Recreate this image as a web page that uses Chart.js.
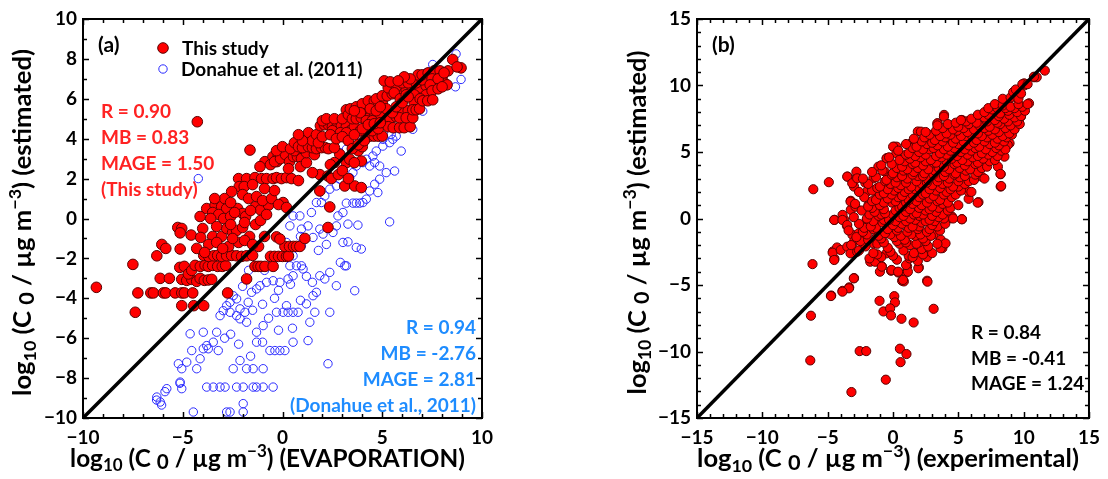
<!DOCTYPE html>
<html>
<head>
<meta charset="utf-8">
<script src="https://cdn.jsdelivr.net/npm/chart.js@4.4.0/dist/chart.umd.min.js"></script>
<style>
html, body { margin: 0; padding: 0; background: #fff; }
#wrap { position: relative; width: 1108px; height: 479px; }
.box { position: absolute; top: 0; width: 554px; height: 479px; }
</style>
</head>
<body>
<div id="wrap">
  <div class="box" style="left:0"><canvas id="chartA" width="554" height="479"></canvas></div>
  <div class="box" style="left:554px"><canvas id="chartB" width="554" height="479"></canvas></div>
</div>
<script>
// panel (a): evaporation vs estimated, [x, y] in log10 units
var evapThisStudy = [
  [-9.33,-3.45],[-7.5,-2.3],[-7.38,-4.7],[-7.25,-3.73],
  [-6.6,-3.73],[-6.47,-3.73],[-5.97,-3.73],[-5.85,-3.73],[-5.38,-3.73],[-5.05,-3.73],[-4.92,-3.73],[-4.5,-3.73],
  [-6.3,-1.87],[-6.05,-1.3],[-5.85,-1.5],
  [-6.13,-3.0],[-5.67,-3.0],[-5.05,-3.05],[-4.8,-3.1],[-4.55,-3.05],[-4.3,-3.15],[-4.13,-3.0],[-3.92,-3.1],[-3.72,-3.08],[-3.55,-3.05],
  [-5.05,-4.37],[-4.45,-4.37],[-3.95,-4.37],
  [-5.25,-0.45],[-5.05,-0.5],[-5.13,-0.72],[-5.13,-1.53],[-4.58,-0.83],[-4.13,0.1],[-4.27,4.85],
  [-5.15,-2.45],[-4.92,-2.4],[-4.72,-2.78],[-4.55,-2.6],[-4.38,-2.35],[-4.12,-2.4],[-3.88,-2.35],[-3.72,-2.4],[-3.5,-2.35],[-3.25,-2.4],[-3.02,-2.4],[-2.85,-2.35],
  [-3.95,-1.85],[-3.7,-1.9],[-3.45,-1.87],[-3.25,-1.85],[-3.05,-1.9],[-2.8,-1.87],[-2.55,-1.85],[-2.3,-1.87],[-2.05,-1.9],[-1.8,-1.87],[-1.5,-1.85],
  [-2.75,-3.73],[-1.8,-3.03],
  [-1.38,-2.4],[-1.22,-2.4],[-1.08,-2.4],[-0.88,-2.4],[-0.47,-2.4],
  [-0.6,-1.9],[-0.4,-1.9],[-0.2,-1.9],[0.0,-1.9],[0.2,-1.9],[0.3,-1.88],
  [0.12,-1.4],[0.35,-1.4],[0.55,-1.4],[0.7,-1.4],[0.87,-1.4],
  [-0.3,-0.92],[-0.13,-1.03],[1.12,-1.0],[2.28,-0.45],[2.37,0.58],[1.87,1.38],[1.87,2.2],[2.28,2.13],[2.45,2.0],
  [3.12,1.63],[3.62,1.63],[3.95,1.55],[3.95,2.88],[3.2,2.8],[3.37,2.97],[2.87,3.22],[0.03,0.8],
  [-3.8,0.5],[-3.38,0.67],[-3.05,0.6],[-2.8,0.5],[-3.5,0.3],[-3.2,0.2],[-2.95,0.0],[-2.6,0.1],[-2.25,0.5],[-2.0,0.25],[-1.85,0.1],[-1.35,0.6],[-1.1,0.43],[-0.7,0.67],
  [-4.0,-0.5],[-3.5,-0.9],[-3.05,-0.9],[-2.8,-0.5],[-2.5,-0.7],[-2.3,-0.6],[-2.0,-0.45],[-1.65,-0.9],[-1.35,-0.3],[-0.9,-0.9],[-3.7,-1.3],[-3.3,-1.2],[-2.7,-1.4],[-2.2,-1.2],[-1.2,-1.4],[-4.3,-1.5],[-4.1,-0.95],[-3.9,-1.7],
  [-3.6,0.0],[-3.3,-0.4],[-2.6,-0.3],[-2.4,0.3],[-1.6,0.4],[-1.9,-0.2],[-1.1,-0.1],[-0.8,0.2],[-3.0,-1.5],[-2.5,-1.0],[-1.9,-1.1],[-1.5,-1.3],[-2.9,1.0],[-2.6,0.8],[-3.4,1.0],
  [-1.63,3.43],[-0.88,2.85],[-0.48,3.1],[-0.22,3.1],[-0.28,2.85],[-1.13,2.6],
  [-2.2,2.0],[-1.8,2.0],[-1.38,2.05],[-1.05,2.0],[-0.8,2.0],[-0.47,2.0],[-0.3,2.05],[-0.05,2.0],[0.2,2.05],[0.45,2.0],
  [-2.17,1.6],[-1.92,1.6],[-1.5,1.7],[-2.55,1.35],[-2.0,1.2],[-1.7,1.0],[-1.3,1.1],[-1.0,0.9],[-0.55,1.0],[-0.2,0.7],[0.2,0.55],
  [-0.9,1.5],[-0.4,1.4],
  [-0.6,2.7],[-0.4,2.85],[-0.1,3.0],[0.15,3.2],[0.35,2.85],[0.55,3.1],[0.75,3.1],[0.95,3.0],
  [0.3,2.5],[0.9,2.6],[1.2,2.8],[1.5,2.3],[0.8,1.9],[-0.3,3.4],[0.0,3.6],[0.6,3.4],[1.2,3.3],[1.6,3.2],
  [0.4,3.5],[0.6,3.8],[0.8,3.6],[1.0,3.55],[1.3,3.6],[1.5,3.55],[1.7,3.5],[1.95,3.55],[2.15,3.55],[2.3,3.5],[2.6,3.55],
  [1.1,4.0],[1.3,4.3],[1.5,3.9],[1.7,4.2],[1.0,3.9],[0.8,4.2],[1.8,3.8],[2.0,4.1],
  [1.9,4.65],[2.1,4.7],[2.3,4.7],[2.5,4.6],[2.7,4.55],[2.95,4.65],[3.2,4.6],[3.4,4.4],[3.6,4.6],
  [2.0,4.9],[2.2,5.0],[2.6,5.0],[3.0,5.0],[2.5,4.4],[2.9,4.3],[3.2,4.3],[3.8,3.4],[4.0,3.6],
  [2.4,4.2],[2.7,4.0],[3.0,4.1],[3.3,3.9],
  [3.2,5.45],[3.3,5.2],[3.5,5.0],[3.7,5.0],[3.95,5.05],[4.1,5.3],[4.4,5.1],[4.6,5.1],[4.85,5.2],
  [3.4,5.5],[3.7,5.6],[4.0,5.75],[4.3,5.9],[4.6,5.9],[4.85,6.0],[5.1,6.1],
  [4.4,5.5],[4.7,5.4],[5.0,5.8],[3.9,5.3],[3.6,5.4],[4.2,4.9],[4.5,4.9],
  [4.7,6.0],[5.0,6.15],[5.25,6.15],[5.5,6.25],[5.85,6.35],[6.2,6.45],[6.5,6.45],[6.9,6.55],[7.2,6.65],
  [5.3,6.55],[5.7,6.6],[6.0,6.8],[6.3,6.8],[6.7,6.8],[7.0,6.95],[5.1,6.9],[5.4,6.85],
  [6.8,7.2],[6.4,7.0],[6.1,7.1],[5.8,6.9],[5.6,6.3],[5.9,6.0],[6.2,6.2],[6.6,6.2],
  [7.0,7.2],[7.3,7.3],[7.6,7.4],[7.9,7.4],[8.0,7.1],[8.1,6.8],[8.25,6.7],[7.7,6.7],[7.5,7.0],[8.53,7.97],[8.3,7.4],[8.95,7.55],[8.75,7.6],
  [7.4,6.7],[7.8,7.0],[8.1,7.3],[7.2,6.2],[7.5,6.4],[7.8,6.5],[8.0,6.6],[6.6,5.8],[6.9,6.0],
  [4.2,4.13],[4.4,4.13],[4.6,4.13],[4.8,4.13],[5.0,4.13],
  [3.9,4.4],[4.2,4.6],[4.5,4.4],[4.8,4.5],[5.1,4.8],[5.4,5.0],[5.7,5.1],[6.0,5.3],[6.3,5.4],
  [5.3,4.6],[5.55,4.55],[5.87,4.55],[6.1,4.55],[6.4,4.6],
  [5.87,5.05],[6.2,5.05],[6.53,5.05],
  [6.53,5.45],[6.7,5.45],[6.87,5.5],
  [7.03,5.9],[7.28,5.9],[7.53,5.95],
  [5.5,5.3],[5.7,5.6],[6.0,5.8],[6.3,6.1],[5.2,5.5],[4.9,5.6],
  [3.5,3.5],[3.8,3.7],[4.1,3.9],[3.6,4.2],[4.0,4.5],[4.3,4.7],[4.6,4.75],[4.9,4.8],
  [2.8,2.2],[3.0,2.4],[3.3,2.0],[2.6,2.8],[3.6,2.8],[2.4,2.7]
];

var evapDonahue = [
  [8.7,8.25],[8.67,6.6],[8.95,6.97],[7.53,7.72],[7.2,7.3],[7.03,6.63],[6.7,6.3],[6.95,6.13],[7.03,5.38],[6.53,4.47],
  [6.03,4.97],[5.87,4.63],[5.7,4.13],[5.53,3.97],[5.37,3.8],[5.03,3.63],[4.7,3.38],[4.53,3.13],[4.2,2.97],[4.03,2.8],
  [3.7,2.63],[3.53,2.3],[3.37,2.05],[4.37,2.63],[4.62,2.8],[4.87,2.63],[5.2,2.3],[5.62,2.38],[4.87,1.97],[4.62,1.72],
  [4.78,1.3],[4.37,1.38],[4.2,0.97],[4.03,0.8],[3.87,0.77],[3.7,0.77],[3.53,0.77],[3.2,0.77],[3.03,0.3],[2.78,0.13],
  [2.7,-0.37],[3.28,-0.28],[3.78,-0.33],[5.37,-0.17],[2.53,-0.7],[3.03,-1.2],[3.28,-1.17],[3.7,-1.45],[3.95,-1.53],
  [2.03,-0.78],[1.87,-0.53],[1.53,-0.95],[0.95,-1.37],[0.53,-1.87],[0.37,-2.37],[0.7,-2.37],[0.95,-2.37],[1.03,-2.53],
  [1.2,-2.9],[0.53,-2.87],[0.28,-3.03],[-0.13,-3.2],[-0.47,-3.12],[-0.8,-3.2],[-1.13,-3.37],[-1.3,-3.53],[-1.55,-3.7],
  [-1.72,-4.2],[-1.88,-4.7],[-2.13,-4.53],[-2.3,-4.03],[-2.47,-3.87],[-2.63,-4.2],[-2.8,-4.37],[-2.97,-4.62],[-2.63,-4.7],
  [-2.3,-4.87],[-2.13,-5.03],[-1.8,-5.2],[-3.13,-4.87],[-3.3,-5.7],[-3.47,-6.2],[-3.8,-6.37],[-3.97,-6.53],[-4.13,-7.03],
  [-4.3,-7.53],[-4.55,-6.62],[-4.8,-7.2],[-5.05,-7.53],[-5.13,-8.2],[-5.05,-8.53],[-5.8,-8.53],[-6.3,-8.95],[-6.13,-9.2],
  [-4.47,-9.7],[-3.8,-8.45],[-3.47,-8.45],[-3.13,-8.45],[-2.88,-8.45],[-2.8,-9.7],[-2.63,-9.7],[-2.3,-8.45],[-1.97,-8.45],
  [-1.47,-8.45],[-1.3,-8.45],[-0.97,-8.45],[-0.47,-8.45],[-1.97,-9.28],[-1.97,-9.7],[-1.8,-7.53],[-1.47,-7.53],[-0.97,-7.53],
  [-1.3,-6.2],[-2.13,-7.12],[-1.3,-5.7],[-0.97,-5.37],[-0.63,-6.62],[-0.38,-6.62],[-0.13,-6.62],[0.12,-6.62],[0.53,-6.2],
  [-0.3,-4.7],[0.03,-4.7],[0.28,-4.7],[0.53,-4.7],[0.78,-4.7],[0.2,-4.37],[1.2,-4.28],[1.62,-4.7],[1.53,-3.87],[1.7,-3.7],
  [1.87,-2.87],[2.12,-3.03],[2.37,-2.7],[2.7,-3.37],[3.62,-3.62],[3.12,-2.37],[3.2,-2.37],[2.28,-7.28],[1.28,-6.12],
  [1.37,-5.2],[2.37,-4.7],
  [0.87,0.13],[0.53,0.13],[0.37,-0.37],[0.95,-0.53],[1.28,-0.37],[1.45,0.3],[1.7,0.8],[1.95,0.8],[2.12,1.13],[2.37,1.47],
  [2.7,1.63],[2.87,1.97],[3.03,2.47],[2.87,3.3],[3.2,3.47],[3.53,3.63],[3.87,3.8],[4.2,3.97],[4.7,4.13],[5.03,3.97],
  [5.45,4.22],[5.95,3.38],[-4.22,2.0],
  [-2.47,-7.53],[-3.22,-6.62],[-3.72,-6.53],[-2.9,-6.0],[-2.6,-5.8],[-2.2,-6.3],[-1.6,-6.9],[-1.0,-6.2],[-0.7,-5.0],
  [-0.4,-4.0],[-0.2,-5.6],[0.5,-5.5],[0.9,-4.1],[-1.0,-4.3],[-1.5,-4.6],[-2.0,-3.4],[-0.2,-3.6],[0.4,-3.3],[1.5,-3.2],
  [2.9,-2.2],[1.8,-1.6],[2.2,-1.3],[0.9,-0.9],[0.2,-1.2],[-0.5,-2.2],[-0.9,-2.6],[-1.7,-2.6],
  [-5.22,-7.28],[-4.63,-5.78],[-3.97,-5.7],[-6.31,-9.1],[-6.06,-9.35],[-5.89,-8.68],[-5.14,-8.26]
];

// panel (b): experimental vs estimated
var expEstimated = [
  [-6.1,2.2],[-4.91,2.73],[-6.16,-3.43],[-6.28,-7.31],[-6.33,-10.67],[-4.73,-5.79],[-3.86,-5.44],[-3.35,-5.18],[-2.98,-4.48],
  [-3.18,-13.05],[-2.55,-9.97],[-2.05,-9.97],[-0.55,-12.12],[0.53,-9.79],[1.03,-10.19],[0.58,-10.8],
  [-1.03,-6.19],[-0.73,-6.99],[0.1,-5.84],[0.15,-6.31],[-0.22,-6.76],[-0.15,-7.29],[0.65,-7.54],[1.58,-7.82],[3.11,-6.79],
  [2.61,-4.68],[0.7,-4.68],[0.83,-4.73],[-0.15,-3.93],[0.4,-4.06],[1.03,-4.06],[1.08,-3.6],[-0.85,-3.6],[-1.1,-3.06],[1.98,-3.68],
  [-4.48,-3.03],[-4.6,-2.48],[-4.28,-2.18],[-4.48,-0.1],[-3.73,-0.1],[-3.53,-0.55],[-3.86,0.27],[-3.23,0.65],[-3.23,1.33],
  [-3.1,2.9],[-3.48,3.15],[-2.98,2.4],[-3.1,-1.23],[-2.98,-1.73],[-0.48,0.15],
  [3.78,-2.23],[3.66,-1.6],[4.03,0.15],[4.41,0.02],[5.28,-0.05],[6.54,1.23],[5.79,1.48],[8.24,3.33],[8.24,2.4],[8.92,5.66],
  [9.29,6.71],[10.04,10.0],[10.8,10.62],[11.0,10.62],[11.62,11.12],[1.9,6.54],[3.91,7.79],[3.41,7.16],[2.15,5.66],[1.4,5.61],
  [0.1,5.4],[0.28,5.4],[-0.48,4.53],
  [-4.62,-2.57],[-4.5,-3.12],[-4.0,-2.37],[-3.5,-2.12],[-3.25,-2.62],[-3.0,-4.5],[-3.37,-5.25],[-3.87,-5.5],[-4.75,-5.83],
  [-2.74,-2.5],[-2.62,-1.11],[-2.24,-1.62],[-2.0,-0.11],[-1.74,-3.25],[-1.37,-3.25],[-1.0,-4.0],[-0.86,-3.62],[-1.5,-1.87],
  [-1.24,-1.37],[-0.5,-2.62],[-0.11,-3.87],[0.39,-4.0],[0.77,-4.62],[1.14,-4.0],[1.0,-3.5],[1.27,-3.0],[1.94,-3.74],
  [2.64,-4.75],[2.02,-2.12],[2.64,-2.62],[3.65,-2.24],[4.02,-1.87],
  [-3.5,3.15],[-2.8,3.52],[-3.12,2.65],[-2.74,3.02],[-2.12,2.69],[-1.5,3.02],[-1.12,3.9],[-0.49,4.52],[0.01,5.4],[0.26,4.9],
  [-0.62,3.52],[1.39,5.65],[1.52,5.53],[2.14,6.53],[2.89,6.15],[3.4,7.15],[3.9,7.66],[-3.25,1.27],[-2.87,0.89],[-4.5,-0.11],
  [-3.87,-0.11],[-3.5,-0.49],[-1.87,1.02],[-2.0,2.02],[-1.24,1.89],[-0.62,2.27],[0.39,2.39],[1.0,2.89],[1.77,3.9],[2.27,4.27],
  [3.27,5.15],[4.15,5.9],[4.52,6.65],[5.27,7.41],[5.78,7.15],[6.4,7.15],[7.15,7.66],[7.78,8.03],[8.78,8.78],[9.29,9.16],
  [10.04,10.16],[10.79,10.66],[10.41,8.66],[9.79,7.66],[9.03,6.65],[8.78,5.53],[8.28,4.9],[8.53,4.65],[8.03,3.9],
  [6.53,3.9],[6.78,3.15],[5.78,2.02],[6.48,1.19],[8.23,3.35],[8.28,2.44],[5.27,-0.06],[4.52,0.14],[3.77,0.39],[2.27,1.89],
  [1.0,0.89],[0.26,1.39],[-0.74,0.39],[-1.37,-0.36],
  [-1.8,-3.0],[-0.9,-2.9],[0.3,-3.1],[1.2,-2.8],[1.9,-3.2],[2.6,-2.9],
  [-1.2,-2.7],[0.0,-2.8],[1.5,-2.9],[2.3,-2.7],
  [-2.6,-2.4],[-1.5,-2.6],[-0.2,-2.5],[0.8,-2.4],[1.6,-2.6],[2.2,-2.3],[3.0,-2.6],
  [-3.2,-2.0],[-2.1,-2.1],[-1.2,-1.9],[-0.4,-2.2],[0.5,-1.9],[1.3,-2.0],[2.0,-1.8],[2.7,-2.1],[3.4,-1.9],
  [-2.5,-1.7],[-0.7,-1.8],[0.3,-1.7],[1.0,-1.8],[1.8,-1.9],[2.5,-1.7],
  [-2.8,-1.4],[-1.9,-1.6],[-0.9,-1.5],[0.1,-1.4],[0.9,-1.6],[1.7,-1.3],[2.3,-1.5],[3.1,-1.2],
  [-2.0,-1.2],[-1.1,-1.3],[-0.2,-1.2],[0.6,-1.3],[1.4,-1.2],[2.1,-1.2],[2.9,-1.3],
  [-3.4,-0.9],[-2.3,-1.0],[-1.5,-0.8],[-0.6,-1.1],[0.3,-0.9],[1.1,-1.0],[1.9,-0.8],[2.6,-1.0],[3.6,-0.9],
  [-2.2,-0.7],[-1.3,-0.7],[-0.4,-0.8],[0.4,-0.7],[1.2,-0.7],[2.0,-0.6],[2.8,-0.8],[3.4,-0.6],
  [-2.6,-0.4],[-1.7,-0.6],[-0.8,-0.3],[0.0,-0.5],[0.7,-0.4],[1.5,-0.6],[2.2,-0.3],[3.0,-0.5],[4.0,-0.4],
  [-1.5,-0.2],[-0.7,-0.1],[0.2,-0.2],[1.0,-0.2],[1.7,-0.1],[2.5,-0.2],[3.2,-0.2],[3.9,0.0],
  [-3.0,0.1],[-2.0,0.0],[-1.1,0.2],[-0.3,-0.1],[0.5,0.1],[1.3,0.0],[2.0,0.2],[2.8,-0.1],[3.5,0.1],[4.6,0.0],
  [-1.8,0.3],[-0.9,0.3],[0.0,0.3],[0.8,0.2],[1.6,0.3],[2.3,0.3],[3.0,0.2],[3.8,0.3],
  [-2.4,0.6],[-1.4,0.5],[-0.6,0.4],[0.2,0.6],[1.0,0.5],[1.8,0.4],[2.5,0.6],[3.3,0.5],[4.2,0.6],
  [-1.6,0.8],[-0.7,0.7],[0.5,0.8],[1.3,0.7],[2.0,0.8],[2.8,0.7],[3.5,0.8],[4.4,0.8],
  [-2.9,1.1],[-1.9,0.9],[-1.0,1.0],[-0.1,1.2],[0.7,0.9],[1.5,1.1],[2.2,1.0],[3.0,0.9],[3.8,1.1],[5.0,1.0],
  [-1.6,1.3],[-0.7,1.2],[0.2,1.3],[1.0,1.2],[1.8,1.3],[2.6,1.2],[3.4,1.3],[4.2,1.2],
  [-2.2,1.6],[-1.3,1.4],[-0.4,1.5],[0.4,1.6],[1.2,1.4],[2.0,1.6],[2.8,1.5],[3.6,1.4],[4.5,1.6],
  [-1.0,1.8],[-0.1,1.8],[0.7,1.7],[1.5,1.8],[2.3,1.8],[3.1,1.7],[3.9,1.8],[4.8,1.8],
  [-2.6,2.0],[-1.6,2.1],[-0.7,1.9],[0.1,2.1],[0.9,2.0],[1.7,2.2],[2.5,1.9],[3.3,2.1],[4.1,2.0],[5.2,2.1],[6.0,2.0],
  [-1.2,2.3],[-0.4,2.2],[0.4,2.3],[1.2,2.2],[2.0,2.3],[2.8,2.2],[3.6,2.3],[4.4,2.2],[5.0,2.4],
  [-1.9,2.6],[-1.0,2.4],[-0.2,2.6],[0.6,2.5],[1.4,2.4],[2.2,2.6],[3.0,2.5],[3.8,2.6],[4.6,2.4],[5.5,2.6],
  [-0.6,2.8],[0.2,2.7],[1.0,2.7],[1.8,2.8],[2.6,2.7],[3.4,2.8],[4.2,2.7],[5.0,2.8],[5.8,2.8],
  [-2.3,3.0],[-1.3,3.1],[-0.5,2.9],[0.3,3.1],[1.1,3.0],[1.9,3.2],[2.7,2.9],[3.5,3.1],[4.3,3.0],[5.1,3.1],[6.2,2.9],[7.0,3.0],
  [-0.1,3.3],[0.7,3.2],[1.5,3.3],[2.3,3.2],[3.1,3.3],[3.9,3.2],[4.7,3.3],[5.5,3.2],[6.3,3.3],
  [-1.6,3.5],[-0.8,3.6],[0.0,3.4],[0.8,3.6],[1.6,3.5],[2.4,3.4],[3.2,3.6],[4.0,3.5],[4.8,3.4],[5.6,3.6],[6.5,3.5],
  [0.3,3.8],[1.1,3.7],[1.9,3.8],[2.7,3.7],[3.5,3.8],[4.3,3.7],[5.1,3.8],[5.9,3.7],[6.8,3.8],
  [-0.9,4.0],[-0.1,4.1],[0.7,3.9],[1.5,4.1],[2.3,4.0],[3.1,4.2],[3.9,3.9],[4.7,4.1],[5.5,4.0],[6.3,4.1],[7.2,3.9],
  [0.9,4.3],[1.7,4.2],[2.5,4.3],[3.3,4.2],[4.1,4.3],[4.9,4.2],[5.7,4.3],[6.5,4.2],[7.4,4.3],
  [-0.3,4.6],[0.5,4.4],[1.3,4.5],[2.1,4.6],[2.9,4.4],[3.7,4.6],[4.5,4.5],[5.3,4.4],[6.1,4.6],[6.9,4.5],[7.8,4.4],
  [1.0,4.8],[1.7,4.7],[2.5,4.8],[3.3,4.7],[4.1,4.8],[4.9,4.7],[5.7,4.8],[6.5,4.7],[7.3,4.8],[8.0,4.7],
  [0.4,5.1],[1.2,4.9],[2.0,5.0],[2.8,5.2],[3.6,4.9],[4.4,5.1],[5.2,5.0],[6.0,5.1],[6.8,4.9],[7.6,5.0],[8.3,5.1],
  [1.5,5.3],[2.3,5.2],[3.1,5.3],[3.9,5.2],[4.7,5.3],[5.5,5.2],[6.3,5.3],[7.1,5.2],[7.9,5.3],[8.6,5.2],
  [1.0,5.6],[1.8,5.4],[2.6,5.6],[3.4,5.5],[4.2,5.4],[5.0,5.6],[5.8,5.5],[6.6,5.4],[7.4,5.6],[8.1,5.5],
  [2.2,5.8],[3.0,5.7],[3.8,5.8],[4.6,5.7],[5.4,5.8],[6.2,5.7],[7.0,5.8],[7.8,5.7],[8.5,5.8],
  [1.6,6.0],[2.4,6.1],[3.2,5.9],[4.0,6.1],[4.8,6.0],[5.6,6.2],[6.4,5.9],[7.2,6.1],[8.0,6.0],[8.7,6.1],
  [2.8,6.3],[3.6,6.2],[4.4,6.3],[5.2,6.2],[6.0,6.3],[6.8,6.2],[7.6,6.3],[8.4,6.2],[9.1,6.3],
  [2.5,6.5],[3.3,6.6],[4.1,6.4],[4.9,6.6],[5.7,6.5],[6.5,6.4],[7.3,6.6],[8.1,6.5],[8.9,6.4],
  [3.8,6.8],[4.6,6.7],[5.4,6.8],[6.2,6.7],[7.0,6.8],[7.8,6.7],[8.6,6.8],[9.3,6.7],
  [3.4,7.0],[4.2,7.1],[5.0,6.9],[5.8,7.1],[6.6,7.0],[7.4,6.9],[8.2,7.1],[9.0,7.0],[9.7,7.1],
  [4.8,7.2],[5.6,7.3],[6.4,7.2],[7.2,7.3],[8.0,7.2],[8.8,7.3],[9.5,7.3],
  [5.2,7.4],[6.0,7.5],[7.0,7.6],[7.8,7.4],[8.5,7.5],[9.3,7.6],
  [6.5,7.8],[7.3,7.8],[8.1,7.7],[8.9,7.8],[9.8,7.7],
  [7.0,8.0],[7.6,8.2],[8.2,7.9],[8.8,8.1],[9.5,8.0],[10.1,8.1],
  [7.3,8.3],[8.0,8.3],[8.6,8.3],[9.3,8.3],[9.9,8.4],
  [7.8,8.6],[8.4,8.5],[9.0,8.4],[9.6,8.6],[10.3,8.6],
  [8.4,9.0],[9.0,9.1],[9.6,9.0],[9.2,9.5],[9.8,9.4],
  [9.4,9.7],[9.9,10.1],[10.3,10.1]
];

var rangeA = [-10, 10];
var rangeB = [-15, 15];
var statsA = ['R = 0.90', 'MB = 0.83', 'MAGE = 1.50', '(This study)'];
var statsDonahue = ['R = 0.94', 'MB = -2.76', 'MAGE = 2.81', '(Donahue et al., 2011)'];
var statsB = ['R = 0.84', 'MB = -0.41', 'MAGE = 1.24'];

var FONT = 'Lato, "Open Sans", sans-serif';
var RED_FILL = '#ff0000';
var RED_EDGE = '#5a0000';
var BLUE = '#2b2bff';

function toXY(list) {
    return list.map(function (p) { return { x: p[0], y: p[1] }; });
}

function minus(v) {
    return String(v).replace('-', '\u2212');
}

// text with sub/superscripts, parts = [text, scale, shift]
function richWidth(ctx, parts, size) {
    var w = 0;
    parts.forEach(function (p) {
        ctx.font = 'bold ' + (size * p[1]) + 'px ' + FONT;
        w += ctx.measureText(p[0]).width;
    });
    return w;
}

function drawRich(ctx, parts, cx, cy, target, rotate) {
    var size = 22;
    size = size * target / richWidth(ctx, parts, size);
    var total = richWidth(ctx, parts, size);
    ctx.save();
    ctx.translate(cx, cy);
    if (rotate) ctx.rotate(-Math.PI / 2);
    ctx.fillStyle = '#000';
    ctx.textBaseline = 'middle';
    ctx.textAlign = 'left';
    var x = -total / 2;
    parts.forEach(function (p) {
        ctx.font = 'bold ' + (size * p[1]) + 'px ' + FONT;
        ctx.fillText(p[0], x, p[2] * size);
        x += ctx.measureText(p[0]).width;
    });
    ctx.restore();
}

function titleParts(tail) {
    return [['log', 1, 0], ['10', 0.7, 0.28], [' (C ', 1, 0], ['0', 0.85, 0.14],
            [' / \u00b5g m', 1, 0], ['\u22123', 0.7, -0.3], [') (' + tail + ')', 1, 0]];
}

// frame, inward ticks, titles and the text annotations
function framePlugin(cfg) {
    return {
        id: 'frame',
        afterDatasetsDraw: function (chart) {
            var ctx = chart.ctx;
            var a = chart.chartArea;
            var xs = chart.scales.x, ys = chart.scales.y;
            ctx.save();
            ctx.strokeStyle = '#000';
            ctx.lineWidth = 1.5;
            ctx.beginPath();
            for (var v = cfg.range[0]; v <= cfg.range[1]; v++) {
                var px = Math.round(xs.getPixelForValue(v)) + 0.5;
                var len = (v % cfg.xStep === 0) ? 6 : 4;
                ctx.moveTo(px, a.bottom); ctx.lineTo(px, a.bottom - len);
                ctx.moveTo(px, a.top); ctx.lineTo(px, a.top + len);
                var py = Math.round(ys.getPixelForValue(v)) + 0.5;
                len = (v % cfg.yStep === 0) ? 6 : 4;
                ctx.moveTo(a.left, py); ctx.lineTo(a.left + len, py);
                ctx.moveTo(a.right, py); ctx.lineTo(a.right - len, py);
            }
            ctx.stroke();
            ctx.lineWidth = 2;
            ctx.strokeRect(a.left, a.top, a.right - a.left, a.bottom - a.top);

            drawRich(ctx, titleParts(cfg.xTail), (a.left + a.right) / 2 + cfg.xTitleShift, 459, cfg.xTitleWidth, false);
            drawRich(ctx, titleParts(cfg.yTail), cfg.yTitleX, (a.top + a.bottom) / 2 + 4, cfg.yTitleWidth, true);

            ctx.textBaseline = 'middle';
            ctx.font = 'bold 21px ' + FONT;
            ctx.fillStyle = '#000';
            ctx.textAlign = 'left';
            ctx.fillText(cfg.tag, a.left + 15, a.top + 26);
            if (cfg.draw) cfg.draw(ctx, a);
            ctx.restore();
        }
    };
}

function baseOptions(range, yStep, yWidth, rightPad) {
    var tickFont = { family: FONT, size: 19, weight: 'bold' };
    return {
        responsive: false,
        animation: false,
        events: [],
        layout: { padding: { left: 0, right: rightPad, top: 19, bottom: 0 } },
        plugins: { legend: { display: false }, tooltip: { enabled: false } },
        scales: {
            x: {
                type: 'linear', min: range[0], max: range[1],
                grid: { display: false, drawTicks: false },
                border: { display: false },
                ticks: { stepSize: 5, autoSkip: false, maxRotation: 0, padding: 8, color: '#000', font: tickFont,
                         callback: function (v) { return minus(v); } },
                afterFit: function (s) { s.height = 61; }
            },
            y: {
                type: 'linear', min: range[0], max: range[1],
                grid: { display: false, drawTicks: false },
                border: { display: false },
                ticks: { stepSize: yStep, autoSkip: false, padding: 6, color: '#000', font: tickFont,
                         callback: function (v) { return minus(v); } },
                afterFit: function (s) { s.width = yWidth; }
            }
        }
    };
}

function textLines(ctx, lines, x, y0, gap, color, align) {
    ctx.fillStyle = color;
    ctx.textAlign = align;
    ctx.font = 'bold 19px ' + FONT;
    lines.forEach(function (t, i) { ctx.fillText(t, x, y0 + i * gap); });
}

new Chart(document.getElementById('chartA'), {
    type: 'scatter',
    data: {
        datasets: [
            { label: '1:1', type: 'line', data: toXY([[rangeA[0], rangeA[0]], [rangeA[1], rangeA[1]]]),
              borderColor: '#000', borderWidth: 3.5, pointRadius: 0, order: 0 },
            { label: 'This study', data: toXY(evapThisStudy), backgroundColor: RED_FILL, borderColor: RED_EDGE,
              borderWidth: 1, pointRadius: 5.3, order: 1 },
            { label: 'Donahue et al. (2011)', data: toXY(evapDonahue), backgroundColor: 'rgba(0,0,0,0)',
              borderColor: BLUE, borderWidth: 1, pointRadius: 4.2, order: 2 }
        ]
    },
    options: baseOptions(rangeA, 2, 83, 72),
    plugins: [framePlugin({
        range: rangeA, xStep: 5, yStep: 2, tag: '(a)',
        xTail: 'EVAPORATION', yTail: 'estimated',
        xTitleWidth: 395, xTitleShift: -15, yTitleWidth: 347, yTitleX: 23,
        draw: function (ctx, a) {
            // legend
            ctx.beginPath();
            ctx.arc(163, 48, 5.3, 0, Math.PI * 2);
            ctx.fillStyle = RED_FILL; ctx.fill();
            ctx.lineWidth = 1; ctx.strokeStyle = RED_EDGE; ctx.stroke();
            ctx.beginPath();
            ctx.arc(163, 69, 4.2, 0, Math.PI * 2);
            ctx.strokeStyle = BLUE; ctx.stroke();
            ctx.fillStyle = '#000';
            ctx.font = 'bold 19px ' + FONT;
            ctx.textAlign = 'left';
            ctx.fillText('This study', 182, 49);
            ctx.fillText('Donahue et al. (2011)', 181, 70);
            textLines(ctx, statsA, 101, 112, 26, '#ff2222', 'left');
            textLines(ctx, statsDonahue, 476, 328, 26, '#1e8cff', 'right');
        }
    })]
});

new Chart(document.getElementById('chartB'), {
    type: 'scatter',
    data: {
        datasets: [
            { label: '1:1', type: 'line', data: toXY([[rangeB[0], rangeB[0]], [rangeB[1], rangeB[1]]]),
              borderColor: '#000', borderWidth: 3.5, pointRadius: 0, order: 0 },
            { label: 'estimated', data: toXY(expEstimated), backgroundColor: RED_FILL, borderColor: RED_EDGE,
              borderWidth: 1, pointRadius: 4.6, order: 1 }
        ]
    },
    options: baseOptions(rangeB, 5, 143, 12),
    plugins: [framePlugin({
        range: rangeB, xStep: 5, yStep: 5, tag: '(b)',
        xTail: 'experimental', yTail: 'estimated',
        xTitleWidth: 382, xTitleShift: -5, yTitleWidth: 344, yTitleX: 84,
        draw: function (ctx, a) {
            textLines(ctx, statsB, 417, 333, 25.5, '#000', 'left');
        }
    })]
});
</script>
</body>
</html>
